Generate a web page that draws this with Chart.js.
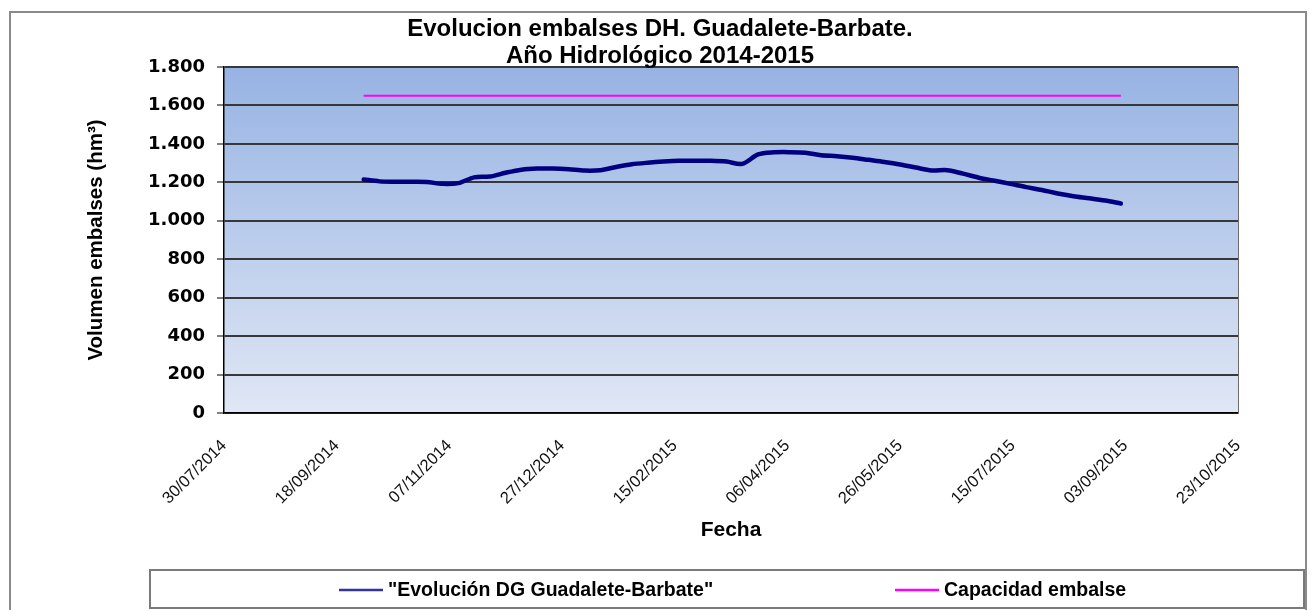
<!DOCTYPE html>
<html>
<head>
<meta charset="utf-8">
<script src="https://cdn.jsdelivr.net/npm/chart.js@4.4.1/dist/chart.umd.min.js"></script>
<style>
  html, body { margin: 0; padding: 0; background: #ffffff; }
  #wrap { width: 1314px; height: 610px; position: relative; }
</style>
</head>
<body>
<div id="wrap"><canvas id="c" width="1314" height="610"></canvas></div>
<script>
// ---- data ----
const titleLines = ['Evolucion embalses DH. Guadalete-Barbate.', 'Año Hidrológico 2014-2015'];
const seriesLabel = '"Evolución DG Guadalete-Barbate"';
const capacityLabel = 'Capacidad embalse';
const xTitle = 'Fecha';
const yTitle = 'Volumen embalses (hm³)';

const dates = [
  '30/09/2014','07/10/2014','14/10/2014','21/10/2014','28/10/2014','04/11/2014','11/11/2014','18/11/2014','25/11/2014',
  '02/12/2014','09/12/2014','16/12/2014','23/12/2014','30/12/2014','06/01/2015','13/01/2015','20/01/2015','27/01/2015',
  '03/02/2015','10/02/2015','17/02/2015','24/02/2015','03/03/2015','10/03/2015','17/03/2015','24/03/2015','31/03/2015',
  '07/04/2015','14/04/2015','21/04/2015','28/04/2015','05/05/2015','12/05/2015','19/05/2015','26/05/2015','02/06/2015',
  '09/06/2015','16/06/2015','23/06/2015','30/06/2015','07/07/2015','14/07/2015','21/07/2015','28/07/2015','04/08/2015',
  '11/08/2015','18/08/2015','25/08/2015','01/09/2015'
];
const volumes = [
  1215,1205,1203,1203,1202,1192,1196,1226,1230,
  1250,1266,1272,1272,1268,1261,1263,1280,1294,
  1302,1308,1312,1312,1312,1308,1296,1345,1356,
  1357,1354,1341,1336,1328,1317,1306,1293,1277,
  1262,1263,1245,1224,1208,1192,1175,1160,1142,
  1128,1117,1105,1090
];
const capacityDates = ['30/09/2014', '01/09/2015'];
const capacityValues = [1651, 1651];

const xTickLabels = ['30/07/2014','18/09/2014','07/11/2014','27/12/2014','15/02/2015','06/04/2015','26/05/2015','15/07/2015','03/09/2015','23/10/2015'];
const yMin = 0, yMax = 1800, yStep = 200;

// ---- helpers ----
function dayNum(s) {
  const [d, m, y] = s.split('/').map(Number);
  return Date.UTC(y, m - 1, d) / 86400000;
}
function fmtDay(v) {
  const dt = new Date(Math.round(v) * 86400000);
  const dd = String(dt.getUTCDate()).padStart(2, '0');
  const mm = String(dt.getUTCMonth() + 1).padStart(2, '0');
  return dd + '/' + mm + '/' + dt.getUTCFullYear();
}
function fmtThousands(v) {
  return String(v).replace(/\B(?=(\d{3})+(?!\d))/g, '.');
}
const xTickValues = xTickLabels.map(dayNum);

const seriesPts = dates.map((d, i) => ({ x: dayNum(d), y: volumes[i] }));
const capPts = capacityDates.map((d, i) => ({ x: dayNum(d), y: capacityValues[i] }));

const FONT = '"Liberation Sans", Arial, sans-serif';

const decor = {
  id: 'decor',
  beforeDraw(chart) {
    const { ctx, chartArea: a } = chart;
    ctx.save();
    ctx.fillStyle = '#ffffff';
    ctx.fillRect(0, 0, chart.width, chart.height);
    const g = ctx.createLinearGradient(0, a.top, 0, a.bottom);
    g.addColorStop(0, '#97b3e3');
    g.addColorStop(1, '#e0e7f5');
    ctx.fillStyle = g;
    ctx.fillRect(a.left, a.top, a.right - a.left, a.bottom - a.top);
    ctx.restore();
  },
  afterDraw(chart) {
    const { ctx, chartArea: a } = chart;
    ctx.save();
    // plot area right border
    ctx.strokeStyle = '#6b6b6b';
    ctx.lineWidth = 1;
    ctx.beginPath();
    ctx.moveTo(a.right + 0.5, a.top);
    ctx.lineTo(a.right + 0.5, a.bottom);
    ctx.stroke();
    // outer frame
    ctx.strokeStyle = '#8a8a8a';
    ctx.lineWidth = 2;
    ctx.strokeRect(10, 12, 1296, 610);
    // title
    ctx.fillStyle = '#000';
    ctx.textAlign = 'center';
    ctx.textBaseline = 'middle';
    ctx.font = 'bold 24px ' + FONT;
    titleLines.forEach((t, i) => ctx.fillText(t, 660, 29 + i * 27));
    // legend box
    ctx.fillStyle = '#ffffff';
    ctx.fillRect(150, 570, 1154, 38);
    ctx.strokeStyle = '#7a7a7a';
    ctx.lineWidth = 2;
    ctx.strokeRect(150, 570, 1154, 38);
    const starts = [339, 895];
    ctx.textAlign = 'left';
    ctx.font = 'bold 19.5px ' + FONT;
    chart.data.datasets.forEach((ds, i) => {
      const x = starts[i];
      ctx.strokeStyle = ds.legendColor || ds.borderColor;
      ctx.lineWidth = 2.5;
      ctx.beginPath();
      ctx.moveTo(x, 590);
      ctx.lineTo(x + 44, 590);
      ctx.stroke();
      ctx.fillStyle = '#000';
      ctx.fillText(ds.label, x + 49, 591);
    });
    ctx.restore();
  }
};

new Chart(document.getElementById('c'), {
  type: 'line',
  data: {
    datasets: [
      {
        label: seriesLabel,
        data: seriesPts,
        borderColor: '#000080',
        legendColor: '#3333a0',
        borderWidth: 4.5,
        pointRadius: 0,
        tension: 0.3,
        borderCapStyle: 'round',
        borderJoinStyle: 'round'
      },
      {
        label: capacityLabel,
        data: capPts,
        borderColor: '#ff00ff',
        borderWidth: 2,
        pointRadius: 0
      }
    ]
  },
  options: {
    responsive: false,
    animation: false,
    layout: { padding: { left: 78, right: 76, top: 67, bottom: 62 } },
    plugins: { legend: { display: false }, title: { display: false }, tooltip: { enabled: false } },
    scales: {
      x: {
        type: 'linear',
        min: xTickValues[0],
        max: xTickValues[xTickValues.length - 1],
        afterBuildTicks(scale) { scale.ticks = xTickValues.map(v => ({ value: v })); },
        afterFit(scale) { scale.height = 135; },
        grid: { display: false, drawTicks: false },
        border: { display: true, color: '#000', width: 1.5 },
        ticks: {
          autoSkip: false,
          maxRotation: 45, minRotation: 45,
          padding: 23,
          color: '#111',
          font: { family: FONT, size: 16.5 },
          callback: (v) => fmtDay(v)
        },
        title: {
          display: true, text: xTitle, color: '#000',
          font: { family: FONT, size: 21, weight: 'bold' },
          padding: { top: 0, bottom: 5 },
          align: 'center'
        }
      },
      y: {
        min: yMin, max: yMax,
        afterFit(scale) { scale.width = 146; },
        ticks: {
          stepSize: yStep,
          padding: 12,
          color: '#000',
          font: { family: '"DejaVu Sans", ' + FONT, size: 18, weight: 'bold' },
          callback: (v) => fmtThousands(v)
        },
        grid: { color: '#383838', lineWidth: 2, tickLength: 7, tickColor: '#000', tickWidth: 1 },
        border: { display: true, color: '#000', width: 1.5 },
        title: {
          display: true, text: yTitle, color: '#000',
          font: { family: FONT, size: 20.5, weight: 'bold' },
          padding: { top: 6, bottom: 0 }
        }
      }
    }
  },
  plugins: [decor]
});
</script>
</body>
</html>
